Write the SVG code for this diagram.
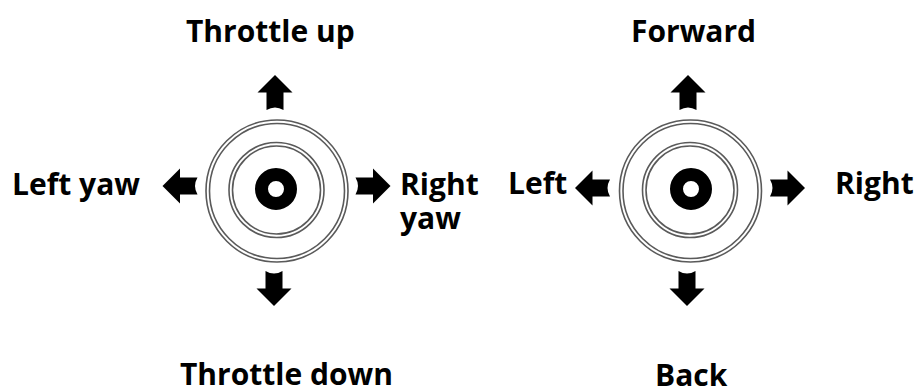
<svg xmlns="http://www.w3.org/2000/svg" width="922" height="389" viewBox="0 0 922 389">
  <style>
    .lbl { font-family: "Open Sans", "Liberation Sans", sans-serif; font-weight: bold; font-size: 30px; fill: #000; }
    .ring { fill: none; stroke: #5a5a5a; stroke-width: 1.6; }
    .dot { fill: none; stroke: #000; stroke-width: 13; }
  </style>
  <defs>
    <path id="arrow" d="M17.5,0 L0,-17.5 L0,-8.5 L-17.5,-8.5 Q-12.5,0 -17.5,8.5 L0,8.5 L0,17.5 Z" fill="#000"/>
  </defs>
  <rect width="922" height="389" fill="#fff"/>

  <g id="stick-left">
    <circle class="ring" cx="277" cy="191" r="71"/>
    <circle class="ring" cx="277" cy="191" r="67.5"/>
    <circle class="ring" cx="276.5" cy="190" r="47.5"/>
    <circle class="ring" cx="276.5" cy="190" r="44"/>
    <circle class="dot" cx="276" cy="189" r="14.5"/>
  </g>
  <g id="stick-right">
    <circle class="ring" cx="690.5" cy="191" r="71"/>
    <circle class="ring" cx="690.5" cy="191" r="67.5"/>
    <circle class="ring" cx="690" cy="190" r="47.5"/>
    <circle class="ring" cx="690" cy="190" r="44"/>
    <circle class="dot" cx="691" cy="189" r="14.5"/>
  </g>

  <g id="connectors">
    <use href="#arrow" transform="translate(275,92.5) rotate(-90)"/>
    <use href="#arrow" transform="translate(274,288.5) rotate(90)"/>
    <use href="#arrow" transform="translate(180,186) rotate(180)"/>
    <use href="#arrow" transform="translate(373,186)"/>
    <use href="#arrow" transform="translate(688,92.5) rotate(-90)"/>
    <use href="#arrow" transform="translate(687,288.5) rotate(90)"/>
    <use href="#arrow" transform="translate(592.5,188) rotate(180)"/>
    <use href="#arrow" transform="translate(787.5,188)"/>
  </g>

  <g id="label-throttle-up"><text class="lbl" x="186" y="42">Throttle up</text></g>
  <g id="label-left-yaw"><text class="lbl" x="12" y="195">Left yaw</text></g>
  <g id="label-right-yaw"><text class="lbl" x="400" y="195">Right</text><text class="lbl" x="400" y="229">yaw</text></g>
  <g id="label-throttle-down"><text class="lbl" x="180" y="385">Throttle down</text></g>
  <g id="label-forward"><text class="lbl" x="631" y="42">Forward</text></g>
  <g id="label-left"><text class="lbl" x="508" y="194">Left</text></g>
  <g id="label-right"><text class="lbl" x="835" y="194">Right</text></g>
  <g id="label-back"><text class="lbl" x="655" y="386">Back</text></g>
</svg>
